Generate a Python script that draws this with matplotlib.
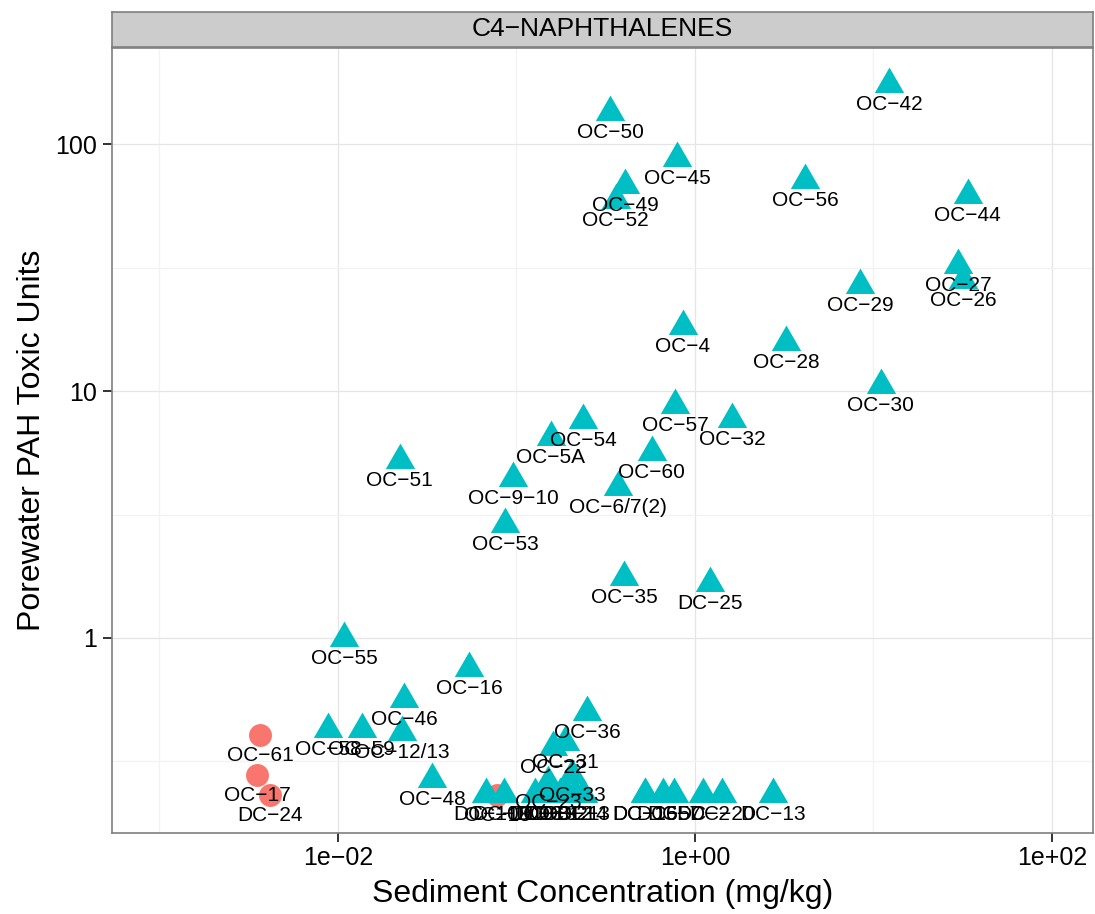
import matplotlib
matplotlib.use('Agg')
import matplotlib.pyplot as plt
from matplotlib.ticker import FixedLocator, NullFormatter
import numpy as np

plt.rcParams['font.family'] = ['Liberation Sans', 'DejaVu Sans']

# group 1 (circles)
circ_names = ['OC\u221261', 'OC\u221217', 'DC\u221224', 'OC\u221218']
circ_x = [0.00366, 0.00352, 0.00416, 0.0778]
circ_y = [0.405, 0.279, 0.231, 0.232]

# group 2 (triangles)
tri_names = ['OC\u221242', 'OC\u221250', 'OC\u221245', 'OC\u221249', 'OC\u221252',
             'OC\u221256', 'OC\u221244', 'OC\u221227', 'OC\u221226', 'OC\u221229',
             'OC\u22124', 'OC\u221228', 'OC\u221230', 'OC\u221257', 'OC\u221232',
             'OC\u221254', 'OC\u22125A', 'OC\u221260', 'OC\u22126/7(2)', 'OC\u221251',
             'OC\u22129\u221210', 'OC\u221253', 'OC\u221235', 'DC\u221225', 'OC\u221255',
             'OC\u221216', 'OC\u221246', 'OC\u221236', 'OC\u221258', 'OC\u221259',
             'OC\u221212/13', 'OC\u221248', 'OC\u221231', 'OC\u221222', 'OC\u221223',
             'OC\u221233',
             'DC\u221210', 'DC\u221211', 'DC\u22126', 'DC\u22128', 'DC\u22129',
             'DC\u221212', 'DC\u221221', 'DC\u221214', 'DC\u22123',
             'DC\u221215', 'DC\u221216', 'DC\u22125', 'DC\u22127', 'DC\u22122',
             'DC\u221220', 'DC\u221213']
tri_x = [12.2, 0.334, 0.792, 0.406, 0.360,
         4.13, 33.8, 29.7, 31.7, 8.40,
         0.857, 3.24, 11.0, 0.773, 1.61,
         0.236, 0.156, 0.574, 0.371, 0.0222,
         0.0955, 0.0863, 0.400, 1.21, 0.0108,
         0.0542, 0.0234, 0.248, 0.00879, 0.0136,
         0.0229, 0.0336, 0.187, 0.160, 0.150,
         0.205,
         0.0675, 0.0851, 0.127, 0.139, 0.154,
         0.175, 0.192, 0.213, 0.236,
         0.525, 0.525, 0.662, 0.762, 1.11,
         1.42, 2.74]
tri_y = [175, 134.9, 87.8, 68.2, 59.3,
         71.5, 62.2, 32.4, 28.1, 26.9,
         18.3, 15.8, 10.6, 8.77, 7.71,
         7.64, 6.52, 5.66, 4.09, 5.26,
         4.45, 2.90, 1.77, 1.67, 1.00,
         0.757, 0.566, 0.501, 0.428, 0.428,
         0.416, 0.268, 0.379, 0.362, 0.261,
         0.279,
         0.234, 0.234, 0.234, 0.234, 0.234,
         0.234, 0.234, 0.234, 0.234,
         0.234, 0.234, 0.234, 0.234, 0.234,
         0.234, 0.234]

tri_marker = [(0, 1), (-0.866, -0.5), (0.866, -0.5), (0, 1)]

fig = plt.figure(figsize=(10.95, 9.14), dpi=100)
ax = fig.add_axes([112 / 1095, 1 - 833 / 914, (1093 - 112) / 1095, (833 - 48) / 914])
ax.set_xscale('log')
ax.set_yscale('log')
ax.set_xlim(5.42e-4, 169.8)
ax.set_ylim(0.1623, 245)

ax.scatter(circ_x, circ_y, s=16.5 ** 2, marker='o', color='#F8766D', linewidths=0, zorder=3)
ax.scatter(tri_x, tri_y, s=24.4 ** 2, marker=tri_marker, color='#00BFC4', linewidths=0, zorder=3)

for n, x, y in list(zip(circ_names, circ_x, circ_y)) + list(zip(tri_names, tri_x, tri_y)):
    ax.annotate(n, (x, y), xytext=(0, -18.8), textcoords='offset points',
                ha='center', va='baseline', fontsize=15, color='black', zorder=4)

ax.xaxis.set_major_locator(FixedLocator([1e-2, 1, 1e2]))
ax.set_xticklabels(['1e\u221202', '1e+00', '1e+02'])
ax.xaxis.set_minor_locator(FixedLocator([1e-3, 1e-1, 1e1]))
ax.xaxis.set_minor_formatter(NullFormatter())
ax.yaxis.set_major_locator(FixedLocator([1, 10, 100]))
ax.set_yticklabels(['1', '10', '100'])
ax.yaxis.set_minor_locator(FixedLocator([10 ** -0.5, 10 ** 0.5, 10 ** 1.5]))
ax.yaxis.set_minor_formatter(NullFormatter())

ax.grid(True, which='major', color='#E5E5E5', linewidth=0.9)
ax.grid(True, which='minor', color='#F2F2F2', linewidth=0.9)
ax.set_axisbelow(True)
ax.tick_params(which='major', length=6.5, width=1.3, color='#222222', labelsize=18)
ax.tick_params(axis='x', pad=3)
ax.tick_params(axis='y', pad=4)
ax.tick_params(which='minor', length=0)
for s in ax.spines.values():
    s.set_color('#7F7F7F')
    s.set_linewidth(1.2)

ax.set_xlabel('Sediment Concentration (mg/kg)', fontsize=23, labelpad=6)
ax.set_ylabel('Porewater PAH Toxic Units', fontsize=23, labelpad=6)

strip = fig.add_axes([112 / 1095, 1 - 47 / 914, (1093 - 112) / 1095, 35 / 914])
strip.set_facecolor('#CCCCCC')
strip.set_xticks([])
strip.set_yticks([])
for s in strip.spines.values():
    s.set_color('#7F7F7F')
    s.set_linewidth(1.2)
strip.text(0.5, 0.5, 'C4\u2212NAPHTHALENES', ha='center', va='center', fontsize=19,
           transform=strip.transAxes)

fig.savefig('out.png', dpi=100)
